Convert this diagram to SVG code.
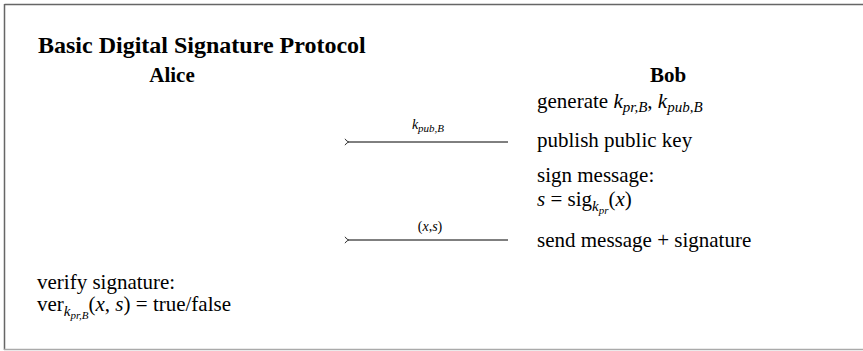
<svg xmlns="http://www.w3.org/2000/svg" width="863" height="351" viewBox="0 0 863 351">
<defs>
<style>
.t{font-size:21px}
.h{font-size:21px;font-weight:bold}
.ttl{font-size:24px;font-weight:bold}
.i{font-style:italic}
.s{font-size:15px}
.ss{font-size:11px}
.lbl{font-size:14px}
.conn{stroke:#000;stroke-width:1;fill:none}
</style>
<marker id="ah" viewBox="0 0 10 10" refX="1" refY="5" markerWidth="8" markerHeight="8" orient="auto" markerUnits="userSpaceOnUse">
<path d="M6,1 Q4,4.5 1,5 Q4,5.5 6,9" fill="none" stroke="#000" stroke-width="1"/>
</marker>
</defs>
<rect width="863" height="351" fill="#fff"/>
<g id="frame">
<line x1="4.5" y1="4.5" x2="870" y2="4.5" stroke="#666" stroke-width="1.5"/>
<line x1="4.5" y1="4" x2="4.5" y2="350" stroke="#666" stroke-width="1.5"/>
<line x1="4" y1="349.5" x2="870" y2="349.5" stroke="#aaa" stroke-width="1.5"/>
</g>
<g id="title"><text font-family="Liberation Serif, serif" class="ttl" x="38" y="53">Basic Digital Signature Protocol</text></g>
<g id="alice"><text font-family="Liberation Serif, serif" class="h" x="172" y="82" text-anchor="middle">Alice</text></g>
<g id="bob"><text font-family="Liberation Serif, serif" class="h" x="668" y="82" text-anchor="middle">Bob</text></g>
<g id="step-generate"><text font-family="Liberation Serif, serif" class="t" x="537" y="108">generate <tspan class="i">k</tspan><tspan class="i s" dy="4">pr,B</tspan><tspan dy="-4">, </tspan><tspan class="i">k</tspan><tspan class="i s" dy="4">pub,B</tspan></text></g>
<g id="step-publish"><text font-family="Liberation Serif, serif" class="t" x="537" y="147">publish public key</text></g>
<g id="step-sign"><text font-family="Liberation Serif, serif" class="t" x="537" y="182">sign message:</text>
<text font-family="Liberation Serif, serif" class="t" x="537" y="206"><tspan class="i">s</tspan> = sig<tspan class="i s" dy="5">k</tspan><tspan class="i ss" dy="3">pr</tspan><tspan dy="-8">(</tspan><tspan class="i">x</tspan>)</text></g>
<g id="step-send"><text font-family="Liberation Serif, serif" class="t" x="537" y="247">send message + signature</text></g>
<g id="step-verify"><text font-family="Liberation Serif, serif" class="t" x="37" y="289">verify signature:</text>
<text font-family="Liberation Serif, serif" class="t" x="37" y="311">ver<tspan class="i s" dy="5">k</tspan><tspan class="i ss" dy="3">pr,B</tspan><tspan dy="-8">(</tspan><tspan class="i">x</tspan>, <tspan class="i">s</tspan>) = true/false</text></g>
<g id="connectors">
<line class="conn" x1="508" y1="142" x2="349" y2="142" marker-end="url(#ah)"/>
<line class="conn" x1="508" y1="240" x2="349" y2="240" marker-end="url(#ah)"/>
<text font-family="Liberation Serif, serif" class="lbl" x="428" y="129" text-anchor="middle"><tspan class="i">k</tspan><tspan class="i ss" dy="3">pub,B</tspan></text>
<text font-family="Liberation Serif, serif" class="lbl" x="430" y="231" text-anchor="middle">(<tspan class="i">x</tspan>,<tspan class="i">s</tspan>)</text>
</g>
</svg>
